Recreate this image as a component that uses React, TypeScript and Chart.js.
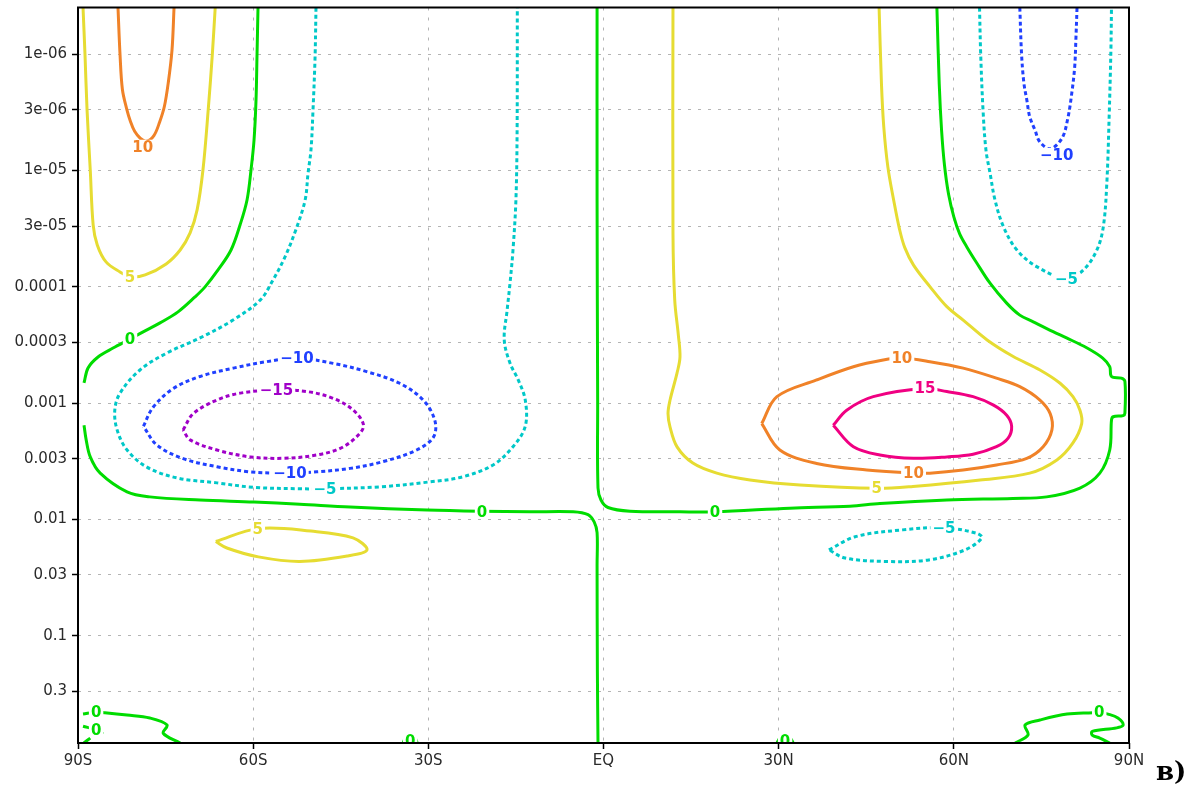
import React, { useEffect, useRef } from 'react';
import { Chart, registerables } from 'chart.js';

Chart.register(...registerables);

type Pt = [number, number]; // [latitude (deg, S<0), vertical coordinate]

// ---- axes ----
const xTickValues = [-90, -60, -30, 0, 30, 60, 90];
const xTickLabels = ['90S', '60S', '30S', 'EQ', '30N', '60N', '90N'];
const yTickValues = [1e-6, 3e-6, 1e-5, 3e-5, 1e-4, 3e-4, 1e-3, 3e-3, 1e-2, 3e-2, 0.1, 0.3];
const yTickLabels = ['1e-06', '3e-06', '1e-05', '3e-05', '0.0001', '0.0003', '0.001', '0.003', '0.01', '0.03', '0.1', '0.3'];
const yMin = 3.96e-7;
const yMax = 0.837;

// ---- contour level 0 ----
const zeroSouthUpper: Pt[] = [[-59.17,3.96e-7],[-59.34,1.01e-6],[-59.51,2.47e-6],[-59.85,5.46e-6],[-60.37,9.89e-6],[-61.05,1.79e-5],[-62.25,2.94e-5],[-63.79,4.82e-5],[-66.02,7.16e-5],[-68.24,1.0e-4],[-69.96,1.22e-4],[-72.87,1.64e-4],[-75.95,2.04e-4],[-78.52,2.39e-4],[-81.09,2.81e-4],[-84.0,3.36e-4],[-86.57,4.01e-4],[-88.28,4.99e-4],[-88.97,6.71e-4]];
const zeroSouthLower: Pt[] = [[-88.97,1.55e-3],[-88.6,2.07e-3],[-87.9,2.9e-3],[-86.2,4.0e-3],[-81.6,5.8e-3],[-77.7,6.4e-3],[-69.1,6.81e-3],[-59.85,7.08e-3],[-52.0,7.4e-3],[-43.4,7.82e-3],[-30.2,8.3e-3],[-21.15,8.5e-3],[-12.6,8.6e-3],[-5.2,8.6e-3],[-2.65,9.1e-3],[-1.6,1.05e-2],[-1.1,1.3e-2],[-1.1,2.5e-2],[-1.05,0.2],[-0.94,0.837]];
const zeroNorth: Pt[] = [[-1.1,3.96e-7],[-1.1,1.79e-5],[-1.0,9.4e-4],[-0.94,5.37e-3],[-0.43,6.81e-3],[0.77,7.9e-3],[4.54,8.5e-3],[13.1,8.6e-3],[19.1,8.6e-3],[31.9,8.0e-3],[42.2,7.7e-3],[47.35,7.3e-3],[58.8,6.81e-3],[70.1,6.6e-3],[75.9,6.4e-3],[81.6,5.37e-3],[85.0,4.0e-3],[86.7,2.53e-3],[87.0,1.4e-3],[87.3,1.31e-3],[89.0,1.28e-3],[89.3,1.22e-3],[89.3,6.5e-4],[88.7,6.1e-4],[87.0,5.9e-4],[86.7,4.86e-4],[85.5,4.1e-4],[82.75,3.34e-4],[79.3,2.75e-4],[77.0,2.43e-4],[73.6,2.0e-4],[71.3,1.75e-4],[69.05,1.38e-4],[66.2,9.3e-5],[63.9,6.2e-5],[62.3,4.6e-5],[61.0,3.5e-5],[60.0,2.5e-5],[59.1,1.6e-5],[58.4,9.0e-6],[57.9,4.5e-6],[57.5,1.8e-6],[57.1,3.96e-7]];
const zeroSouthPoleA: Pt[] = [[-89.14,0.472],[-86.9,0.455],[-85.4,0.46],[-81.6,0.481],[-77.7,0.51],[-74.75,0.586],[-75.4,0.69],[-72.5,0.837]];
const zeroSouthPoleB: Pt[] = [[-89.14,0.60],[-86.9,0.647],[-85.7,0.70]];
const zeroSouthPoleC: Pt[] = [[-89.0,0.837],[-87.9,0.76]];
const zeroNorthPole: Pt[] = [[70.5,0.837],[72.7,0.715],[72.2,0.586],[74.75,0.531],[79.4,0.472],[83.8,0.46],[84.9,0.455],[86.4,0.472],[88.1,0.51],[89.0,0.586],[87.9,0.62],[83.7,0.665],[83.7,0.715],[85.0,0.76],[86.7,0.837]];
const zeroNear30S: Pt[] = [[-34.3,0.837],[-33.8,0.74],[-32.4,0.74],[-31.9,0.837]];
const zeroNear30N: Pt[] = [[29.7,0.837],[30.4,0.74],[31.8,0.74],[32.5,0.837]];

// ---- contour level 5 ----
const fiveSouthTop: Pt[] = [[-89.14,3.96e-7],[-88.8,1.01e-6],[-88.45,3.01e-6],[-87.9,9.89e-6],[-87.4,2.94e-5],[-86.7,4.36e-5],[-85.2,6.1e-5],[-82.8,7.45e-5],[-81.09,8.2e-5],[-78.5,7.9e-5],[-74.9,6.35e-5],[-72.5,4.82e-5],[-70.8,3.44e-5],[-69.6,2.18e-5],[-68.6,9.89e-6],[-67.7,3.01e-6],[-67.0,1.01e-6],[-66.5,3.96e-7]];
const fiveSouthSmall: Pt[] = [[-66.4,1.55e-2],[-59.2,1.2e-2],[-50.1,1.26e-2],[-42.9,1.44e-2],[-40.5,1.83e-2],[-43.8,2.06e-2],[-52.0,2.3e-2],[-59.1,2.1e-2],[-64.5,1.76e-2],[-66.4,1.55e-2]];
const fiveNorth: Pt[] = [[11.9,3.96e-7],[11.9,3.44e-5],[12.2,1.30e-4],[12.8,2.55e-4],[13.1,4.0e-4],[12.6,5.5e-4],[11.4,9.4e-4],[11.05,1.23e-3],[11.4,1.61e-3],[12.6,2.38e-3],[15.3,3.28e-3],[19.4,4.0e-3],[25.1,4.58e-3],[33.65,5.06e-3],[46.8,5.4e-3],[53.0,5.2e-3],[64.5,4.58e-3],[73.0,4.0e-3],[77.65,3.08e-3],[80.4,2.2e-3],[81.9,1.5e-3],[81.6,1.15e-3],[80.4,8.8e-4],[78.2,6.75e-4],[74.75,5.19e-4],[70.1,3.95e-4],[65.7,2.86e-4],[61.6,1.93e-4],[58.8,1.48e-4],[55.9,9.95e-5],[53.1,6.5e-5],[51.6,4.6e-5],[50.7,3.2e-5],[49.7,1.8e-5],[48.7,9.3e-6],[48.0,4.2e-6],[47.6,1.77e-6],[47.2,3.96e-7]];

// ---- contour level 10 ----
const tenSouthTop: Pt[] = [[-83.15,3.96e-7],[-82.8,1.01e-6],[-82.4,2.0e-6],[-81.7,2.9e-6],[-81.0,3.8e-6],[-80.3,4.6e-6],[-79.3,5.3e-6],[-78.3,5.6e-6],[-77.0,5.0e-6],[-76.0,3.8e-6],[-75.2,2.8e-6],[-74.55,1.77e-6],[-73.9,9.2e-7],[-73.55,3.96e-7]];
const tenNorth: Pt[] = [[27.1,1.5e-3],[29.7,8.8e-4],[36.5,6.32e-4],[42.8,4.86e-4],[47.9,4.26e-4],[51.1,4.1e-4],[55.9,4.4e-4],[61.6,5.0e-4],[67.3,6.1e-4],[71.3,7.2e-4],[74.75,9.4e-4],[76.5,1.23e-3],[76.8,1.7e-3],[75.3,2.37e-3],[72.5,2.98e-3],[67.3,3.4e-3],[61.6,3.76e-3],[55.9,4.0e-3],[53.1,4.0e-3],[45.1,3.76e-3],[36.5,3.3e-3],[30.2,2.53e-3],[27.1,1.5e-3]];

// ---- contour level 15 ----
const fifteenNorth: Pt[] = [[39.35,1.55e-3],[41.65,1.15e-3],[46.2,8.8e-4],[55.06,7.5e-4],[58.8,7.95e-4],[63.3,8.8e-4],[66.8,1.04e-3],[69.05,1.27e-3],[69.9,1.58e-3],[69.3,2.0e-3],[67.3,2.37e-3],[63.3,2.75e-3],[58.8,2.9e-3],[53.1,2.98e-3],[47.35,2.79e-3],[42.8,2.37e-3],[39.35,1.55e-3]];

// ---- contour level -5 ----
const minusFiveSouth: Pt[] = [[-49.24,3.96e-7],[-49.4,1.06e-6],[-49.75,3.01e-6],[-50.1,6.65e-6],[-50.6,1.05e-5],[-51.1,1.79e-5],[-52.7,3.24e-5],[-54.6,5.6e-5],[-56.8,9.1e-5],[-58.8,1.30e-4],[-63.45,1.93e-4],[-69.1,2.75e-4],[-74.75,3.7e-4],[-79.4,5.19e-4],[-82.8,8.2e-4],[-83.7,1.15e-3],[-83.3,1.70e-3],[-81.6,2.53e-3],[-78.2,3.55e-3],[-73.0,4.4e-3],[-66.2,4.85e-3],[-59.85,5.3e-3],[-52.0,5.45e-3],[-47.7,5.45e-3],[-38.3,5.25e-3],[-29.7,4.75e-3],[-24.1,4.3e-3],[-18.9,3.4e-3],[-15.5,2.37e-3],[-13.4,1.58e-3],[-13.4,9.4e-4],[-14.6,6.32e-4],[-16.0,4.55e-4],[-17.0,2.86e-4],[-16.5,1.58e-4],[-16.0,9.2e-5],[-15.5,4.82e-5],[-15.0,1.79e-5],[-14.8,4.78e-6],[-14.76,3.96e-7]];
const minusFiveNorthTop: Pt[] = [[64.4,3.96e-7],[64.6,1.0e-6],[65.0,3.01e-6],[65.5,6.65e-6],[66.2,1.05e-5],[67.05,1.79e-5],[68.5,3.04e-5],[70.8,4.82e-5],[74.2,6.7e-5],[79.3,8.5e-5],[82.2,7.16e-5],[84.5,4.82e-5],[85.6,3.04e-5],[86.2,1.29e-5],[86.6,3.45e-6],[86.9,9.2e-7],[87.0,3.96e-7]];
const minusFiveNorthSmall: Pt[] = [[38.6,1.83e-2],[43.1,1.41e-2],[51.2,1.23e-2],[58.3,1.18e-2],[63.8,1.31e-2],[64.8,1.44e-2],[61.9,1.83e-2],[55.7,2.23e-2],[48.55,2.3e-2],[41.4,2.15e-2],[38.6,1.83e-2]];

// ---- contour level -10 ----
const minusTenSouth: Pt[] = [[-78.8,1.58e-3],[-77.1,1.08e-3],[-73.7,7.5e-4],[-69.1,5.9e-4],[-63.4,5.0e-4],[-57.7,4.4e-4],[-52.5,4.1e-4],[-46.3,4.55e-4],[-40.55,5.36e-4],[-34.9,6.75e-4],[-30.9,9.4e-4],[-28.9,1.4e-3],[-29.1,1.95e-3],[-32.0,2.53e-3],[-37.7,3.18e-3],[-43.4,3.64e-3],[-49.1,3.9e-3],[-53.7,4.0e-3],[-60.5,3.9e-3],[-66.2,3.52e-3],[-72.0,3.0e-3],[-76.5,2.29e-3],[-78.8,1.58e-3]];
const minusTenNorthTop: Pt[] = [[71.3,3.96e-7],[71.6,1.0e-6],[72.0,1.77e-6],[72.5,2.47e-6],[73.0,3.45e-6],[73.9,4.48e-6],[74.7,5.65e-6],[76.5,6.5e-6],[78.5,5.3e-6],[79.5,3.6e-6],[80.2,2.16e-6],[80.7,1.28e-6],[80.9,7.53e-7],[81.1,3.96e-7]];

// ---- contour level -15 ----
const minusFifteenSouth: Pt[] = [[-72.0,1.70e-3],[-70.25,1.23e-3],[-66.2,9.4e-4],[-62.2,8.2e-4],[-56.0,7.71e-4],[-50.8,7.95e-4],[-46.3,9.1e-4],[-42.85,1.15e-3],[-41.1,1.55e-3],[-42.3,1.95e-3],[-45.1,2.45e-3],[-49.1,2.79e-3],[-54.8,2.98e-3],[-60.5,2.9e-3],[-66.2,2.53e-3],[-70.8,2.07e-3],[-72.0,1.70e-3]];

// ---- contour labels: [level, latitude, vertical coordinate] ----
const contourLabels: [number, number, number][] = [
  [0, -81.09, 2.81e-4], [0, -20.8, 8.6e-3], [0, 19.1, 8.6e-3], [0, -86.9, 0.455], [0, -86.9, 0.647], [0, 84.9, 0.455], [0, -33.1, 0.8], [0, 31.1, 0.8],
  [5, -81.09, 8.2e-5], [5, -59.2, 1.2e-2], [5, 46.8, 5.4e-3],
  [10, -78.9, 6.24e-6], [10, 51.1, 4.1e-4], [10, 53.1, 4.0e-3],
  [15, 55.06, 7.5e-4],
  [-5, -47.7, 5.45e-3], [-5, 79.3, 8.5e-5], [-5, 58.3, 1.18e-2],
  [-10, -52.5, 4.1e-4], [-10, -53.7, 4.0e-3], [-10, 77.6, 7.34e-6],
  [-15, -56.0, 7.71e-4],
];

const contours: { level: number; pts: Pt[] }[] = [
  { level: 0, pts: zeroSouthUpper }, { level: 0, pts: zeroSouthLower }, { level: 0, pts: zeroNorth },
  { level: 0, pts: zeroSouthPoleA }, { level: 0, pts: zeroSouthPoleB }, { level: 0, pts: zeroSouthPoleC },
  { level: 0, pts: zeroNorthPole }, { level: 0, pts: zeroNear30S }, { level: 0, pts: zeroNear30N },
  { level: 5, pts: fiveSouthTop }, { level: 5, pts: fiveSouthSmall }, { level: 5, pts: fiveNorth },
  { level: 10, pts: tenSouthTop }, { level: 10, pts: tenNorth },
  { level: 15, pts: fifteenNorth },
  { level: -5, pts: minusFiveSouth }, { level: -5, pts: minusFiveNorthTop }, { level: -5, pts: minusFiveNorthSmall },
  { level: -10, pts: minusTenSouth }, { level: -10, pts: minusTenNorthTop },
  { level: -15, pts: minusFifteenSouth },
];

const LEVEL_COLORS: Record<string, string> = {
  '-15': '#a000c8',
  '-10': '#2040ff',
  '-5': '#00c8c8',
  '0': '#00dc00',
  '5': '#e6dc32',
  '10': '#f08228',
  '15': '#f00082',
};

const labelPlugin = {
  id: 'contourLabels',
  afterDatasetsDraw(chart: any) {
    const { ctx, chartArea, scales } = chart;
    ctx.save();
    ctx.beginPath();
    ctx.rect(chartArea.left, chartArea.top, chartArea.right - chartArea.left, chartArea.bottom - chartArea.top);
    ctx.clip();
    ctx.font = 'bold 15px "DejaVu Sans"';
    ctx.textAlign = 'center';
    ctx.textBaseline = 'middle';
    for (const [level, lat, p] of contourLabels) {
      const px = scales.x.getPixelForValue(lat);
      const py = scales.y.getPixelForValue(p);
      const text = level < 0 ? '\u2212' + Math.abs(level) : String(level);
      const w = ctx.measureText(text).width;
      ctx.fillStyle = '#ffffff';
      ctx.fillRect(px - w / 2 - 2, py - 7, w + 4, 14);
      ctx.fillStyle = LEVEL_COLORS[String(level)];
      ctx.fillText(text, px, py + 1);
    }
    ctx.restore();
  },
  afterDraw(chart: any) {
    const { ctx, chartArea } = chart;
    ctx.save();
    ctx.strokeStyle = '#000';
    ctx.lineWidth = 2;
    ctx.strokeRect(chartArea.left, chartArea.top, chartArea.right - chartArea.left, chartArea.bottom - chartArea.top);
    ctx.fillStyle = '#000';
    ctx.font = 'bold 26px "DejaVu Serif"';
    ctx.textAlign = 'left';
    ctx.textBaseline = 'alphabetic';
    ctx.fillText('в)', chartArea.right + 27, chartArea.bottom + 37);
    ctx.restore();
  },
};

export default function App() {
  const canvasRef = useRef<HTMLCanvasElement | null>(null);
  useEffect(() => {
    if (!canvasRef.current) return;
    const datasets = contours.map((c) => ({
      data: c.pts.map(([x, y]) => ({ x, y })),
      showLine: true,
      borderColor: LEVEL_COLORS[String(c.level)],
      borderWidth: 3,
      borderDash: c.level < 0 ? [4, 3] : [],
      borderJoinStyle: 'round' as const,
      pointRadius: 0,
      pointHoverRadius: 0,
      tension: 0.35,
      fill: false,
    }));
    const tickFont = { family: '"DejaVu Sans"', size: 15 };
    const chart = new Chart(canvasRef.current, {
      type: 'scatter',
      data: { datasets },
      plugins: [labelPlugin],
      options: {
        animation: false,
        responsive: false,
        devicePixelRatio: 1,
        events: [],
        layout: { padding: { top: 7.5, right: 61, left: 0, bottom: 0 } },
        plugins: { legend: { display: false }, tooltip: { enabled: false } },
        scales: {
          x: {
            type: 'linear',
            min: -90,
            max: 90,
            afterBuildTicks: (s: any) => { s.ticks = xTickValues.map((v) => ({ value: v })); },
            afterFit: (s: any) => { s.height = 42; s.paddingLeft = 0; s.paddingRight = 0; },
            ticks: {
              callback: (_v: any, i: number) => xTickLabels[i],
              font: tickFont,
              color: '#2a2a2a',
              maxRotation: 0,
              autoSkip: false,
              padding: 3,
            },
            grid: { color: '#b4b4b4', lineWidth: 1, tickColor: '#000', tickLength: 6, tickWidth: 1.5 },
            border: { display: false, dash: [3, 7] },
          },
          y: {
            type: 'logarithmic',
            reverse: true,
            min: yMin,
            max: yMax,
            afterBuildTicks: (s: any) => { s.ticks = yTickValues.map((v) => ({ value: v })); },
            afterFit: (s: any) => { s.width = 78; s.paddingTop = 0; s.paddingBottom = 0; },
            ticks: {
              callback: (_v: any, i: number) => yTickLabels[i],
              font: tickFont,
              color: '#2a2a2a',
              autoSkip: false,
              padding: 5,
            },
            grid: { color: '#b4b4b4', lineWidth: 1, tickColor: '#000', tickLength: 6, tickWidth: 1.5 },
            border: { display: false, dash: [3, 7] },
          },
        },
      } as any,
    });
    return () => chart.destroy();
  }, []);
  return (
    <div style={{ position: 'absolute', left: 0, top: 0, width: 1190, height: 785, background: '#fff' }}>
      <canvas ref={canvasRef} width={1190} height={785} style={{ display: 'block' }} />
    </div>
  );
}
